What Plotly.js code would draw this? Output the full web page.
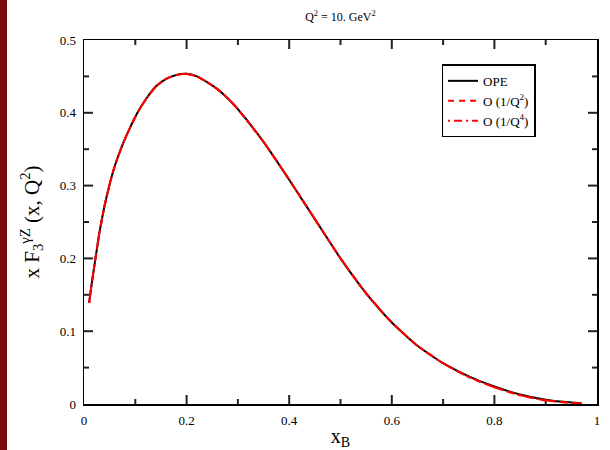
<!DOCTYPE html>
<html>
<head>
<meta charset="utf-8">
<script src="https://cdn.plot.ly/plotly-3.0.1.min.js"></script>
<style>
  html, body { margin: 0; padding: 0; background: #ffffff; }
  #strip { position: absolute; left: 0; top: 0; width: 7px; height: 450px; background: #7d0a0a; z-index: 5; }
  #chart { position: absolute; left: 0; top: 0; width: 610px; height: 450px; }
</style>
</head>
<body>
<div id="strip"></div>
<div id="chart"></div>
<script>
// x_B values
const xB = [0.010, 0.015, 0.020, 0.030, 0.040, 0.050, 0.060, 0.075, 0.090, 0.105,
            0.120, 0.140, 0.160, 0.180, 0.200, 0.220, 0.240, 0.260, 0.280, 0.300,
            0.350, 0.400, 0.450, 0.500, 0.550, 0.600, 0.650, 0.700, 0.750, 0.800,
            0.850, 0.900, 0.950, 0.970];
// OPE (black solid)
const yOPE = [0.139, 0.165, 0.189, 0.235, 0.272, 0.302, 0.327, 0.356, 0.380, 0.401,
              0.418, 0.436, 0.4465, 0.452, 0.4535, 0.450, 0.442, 0.4325, 0.420, 0.405,
              0.360, 0.308, 0.254, 0.200, 0.152, 0.112, 0.080, 0.056, 0.038, 0.024,
              0.013, 0.0058, 0.0020, 0.0012];
// O(1/Q^2) (red dashed)
const yQ2 = [0.139, 0.165, 0.189, 0.235, 0.272, 0.302, 0.327, 0.356, 0.380, 0.401,
             0.418, 0.436, 0.4465, 0.452, 0.4535, 0.450, 0.442, 0.4325, 0.420, 0.405,
             0.360, 0.308, 0.254, 0.200, 0.152, 0.112, 0.080, 0.056, 0.037, 0.023,
             0.012, 0.0050, 0.0015, 0.0010];
// O(1/Q^4) (red dash-dot)
const yQ4 = [0.139, 0.165, 0.189, 0.235, 0.272, 0.302, 0.327, 0.356, 0.380, 0.401,
             0.418, 0.436, 0.4465, 0.452, 0.4535, 0.450, 0.442, 0.4325, 0.420, 0.405,
             0.360, 0.308, 0.254, 0.200, 0.152, 0.112, 0.080, 0.056, 0.037, 0.023,
             0.012, 0.0050, 0.0015, 0.0010];

const seriesNames = ['OPE', 'O (1/Q<sup>2</sup>)', 'O (1/Q<sup>4</sup>)'];
const xTicks = [0, 0.2, 0.4, 0.6, 0.8, 1];
const xTickText = ['0', '0.2', '0.4', '0.6', '0.8', '1'];
const xMinor = [0.1, 0.3, 0.5, 0.7, 0.9];
const yTicks = [0, 0.1, 0.2, 0.3, 0.4, 0.5];
const yTickText = ['0', '0.1', '0.2', '0.3', '0.4', '0.5'];
const yMinor = [0.05, 0.15, 0.25, 0.35, 0.45];

const serif = 'Liberation Serif';
const W = 610, H = 450;
const M = {l: 84, r: 13, t: 40, b: 46};
const xRange = [0, 1], yRange = [0, 0.5];

// Inward tick marks on all four sides, built from the tick arrays (pixel length -> axis units)
const pxX = (xRange[1] - xRange[0]) / (W - M.l - M.r);
const pxY = (yRange[1] - yRange[0]) / (H - M.t - M.b);
const tkX = [], tkY = [];
function addXTick(v, len) {
  tkX.push(v, v, null, v, v, null);
  tkY.push(yRange[0], yRange[0] + len * pxY, null, yRange[1], yRange[1] - len * pxY, null);
}
function addYTick(v, len) {
  tkY.push(v, v, null, v, v, null);
  tkX.push(xRange[0], xRange[0] + len * pxX, null, xRange[1], xRange[1] - len * pxX, null);
}
xTicks.slice(1, -1).forEach(v => addXTick(v, 9));
xMinor.forEach(v => addXTick(v, 5));
yTicks.slice(1, -1).forEach(v => addYTick(v, 9));
yMinor.forEach(v => addYTick(v, 5));

const traces = [
  {x: tkX, y: tkY, mode: 'lines', type: 'scatter', showlegend: false, hoverinfo: 'skip',
   connectgaps: false, cliponaxis: false, line: {color: '#222222', width: 2}},
  {x: xB, y: yOPE, name: seriesNames[0], mode: 'lines', type: 'scatter',
   line: {color: '#000000', width: 2, dash: 'solid', shape: 'spline', smoothing: 0.5}},
  {x: xB, y: yQ2, name: seriesNames[1], mode: 'lines', type: 'scatter',
   line: {color: '#ff0000', width: 2, dash: '6px,5px', shape: 'spline', smoothing: 0.5}},
  {x: xB, y: yQ4, name: seriesNames[2], mode: 'lines', type: 'scatter',
   line: {color: '#ff0000', width: 2, dash: '2px,4px,8px,4px', shape: 'spline', smoothing: 0.5}}
];

const axisCommon = {
  showgrid: false, zeroline: false, showline: true, linecolor: '#000000', linewidth: 1.5,
  mirror: true, ticks: '', ticklabelstandoff: 4,
  tickfont: {family: serif, size: 13, color: '#000000'}
};

const layout = {
  width: W, height: H,
  paper_bgcolor: '#ffffff', plot_bgcolor: '#ffffff',
  font: {family: serif, color: '#000000'},
  margin: M,
  showlegend: true,
  title: {text: 'Q<sup>2</sup> = 10. GeV<sup>2</sup>', x: 0.558, xanchor: 'center', y: 0.962, yanchor: 'middle',
          font: {family: serif, size: 12, color: '#000000'}},
  xaxis: Object.assign({}, axisCommon, {
    range: xRange, tickmode: 'array', tickvals: xTicks, ticktext: xTickText,
    title: {text: 'x<sub>B</sub>', font: {family: serif, size: 20, color: '#000000'}, standoff: 4}
  }),
  yaxis: Object.assign({}, axisCommon, {
    range: yRange, tickmode: 'array', tickvals: yTicks, ticktext: yTickText,
    title: {text: 'x F<sub>3</sub><sup>γZ</sup> (x, Q<sup>2</sup>)', font: {family: serif, size: 21, color: '#000000'}, standoff: 14}
  }),
  legend: {x: 0.697, y: 0.933, xanchor: 'left', yanchor: 'top',
           bgcolor: '#ffffff', bordercolor: '#000000', borderwidth: 1.5,
           font: {family: serif, size: 13, color: '#000000'},
           tracegroupgap: 0, itemwidth: 30}
};

Plotly.newPlot('chart', traces, layout, {displayModeBar: false, staticPlot: true});
</script>
</body>
</html>
